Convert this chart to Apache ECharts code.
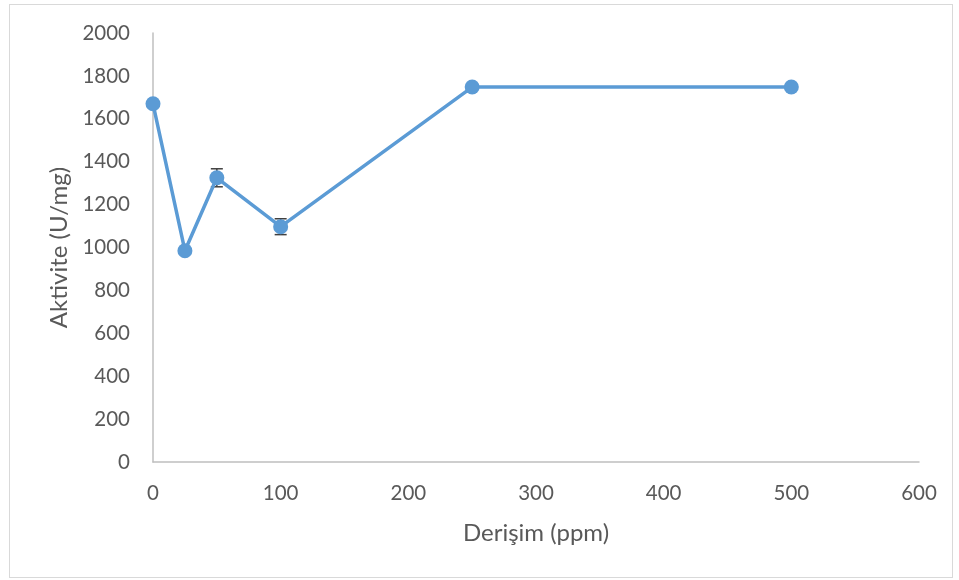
<!DOCTYPE html>
<html>
<head>
<meta charset="utf-8">
<script src="https://cdn.jsdelivr.net/npm/echarts@6/dist/echarts.min.js"></script>
<style>
    html, body { margin: 0; padding: 0; background: #fff; }
    #frame {
        position: absolute;
        left: 9px; top: 4px;
        width: 942px; height: 572px;
        border: 1px solid #d9d9d9;
    }
    #a {
        width: 959px;
        height: 580px;
        position: absolute;
        top: 0;
        left: 0;
    }
</style>
</head>
<body>
<div id="frame"></div>
<div id="a"></div>
<script>
    // concentration (ppm) vs activity (U/mg)
    var derisim = [0, 25, 50, 100, 250, 500];
    var aktivite = [1670, 985, 1325, 1097, 1748, 1748];
    var hata = [8, 8, 42, 37, 10, 5];

    var lineData = [];
    var errData = [];
    for (var i = 0; i < derisim.length; i++) {
        lineData.push([derisim[i], aktivite[i]]);
        errData.push([derisim[i], aktivite[i] - hata[i], aktivite[i] + hata[i]]);
    }

    var font = 'Lato, "Open Sans", sans-serif';
    var grey = '#595959';

    var option = {
        animation: false,
        textStyle: { fontFamily: font },
        grid: { left: 153, right: 40, top: 33, bottom: 118 },
        xAxis: {
            type: 'value',
            min: 0, max: 600, interval: 100,
            name: 'Derişim (ppm)',
            nameLocation: 'middle',
            nameGap: 59,
            nameTextStyle: { fontSize: 24, color: grey, fontFamily: font },
            axisLine: { lineStyle: { color: '#bfbfbf', width: 1.5 } },
            axisTick: { show: false },
            splitLine: { show: false },
            axisLabel: { fontSize: 20.5, color: grey, margin: 21, fontFamily: font,
                formatter: function (v) { return String(v); } }
        },
        yAxis: {
            type: 'value',
            min: 0, max: 2000, interval: 200,
            name: 'Aktivite (U/mg)',
            nameLocation: 'middle',
            nameGap: 81,
            nameTextStyle: { fontSize: 24, color: grey, fontFamily: font },
            axisLine: { show: true, lineStyle: { color: '#bfbfbf', width: 1.5 } },
            axisTick: { show: false },
            splitLine: { show: false },
            axisLabel: { fontSize: 20.5, color: grey, margin: 23, fontFamily: font,
                formatter: function (v) { return String(v); } }
        },
        series: [
            {
                type: 'custom',
                z: 1,
                data: errData,
                renderItem: function (params, api) {
                    var x = api.value(0);
                    var lo = api.coord([x, api.value(1)]);
                    var hi = api.coord([x, api.value(2)]);
                    var w = 6;
                    var st = { stroke: '#404040', lineWidth: 1.5 };
                    return {
                        type: 'group',
                        children: [
                            { type: 'line', shape: { x1: lo[0], y1: lo[1], x2: hi[0], y2: hi[1] }, style: st },
                            { type: 'line', shape: { x1: lo[0] - w, y1: lo[1], x2: lo[0] + w, y2: lo[1] }, style: st },
                            { type: 'line', shape: { x1: hi[0] - w, y1: hi[1], x2: hi[0] + w, y2: hi[1] }, style: st }
                        ]
                    };
                }
            },
            {
                type: 'line',
                z: 3,
                data: lineData,
                symbol: 'circle',
                symbolSize: 15,
                lineStyle: { color: '#5b9bd5', width: 3.5 },
                itemStyle: { color: '#5b9bd5' }
            }
        ]
    };

    echarts.init(document.getElementById('a')).setOption(option);
</script>
</body>
</html>
